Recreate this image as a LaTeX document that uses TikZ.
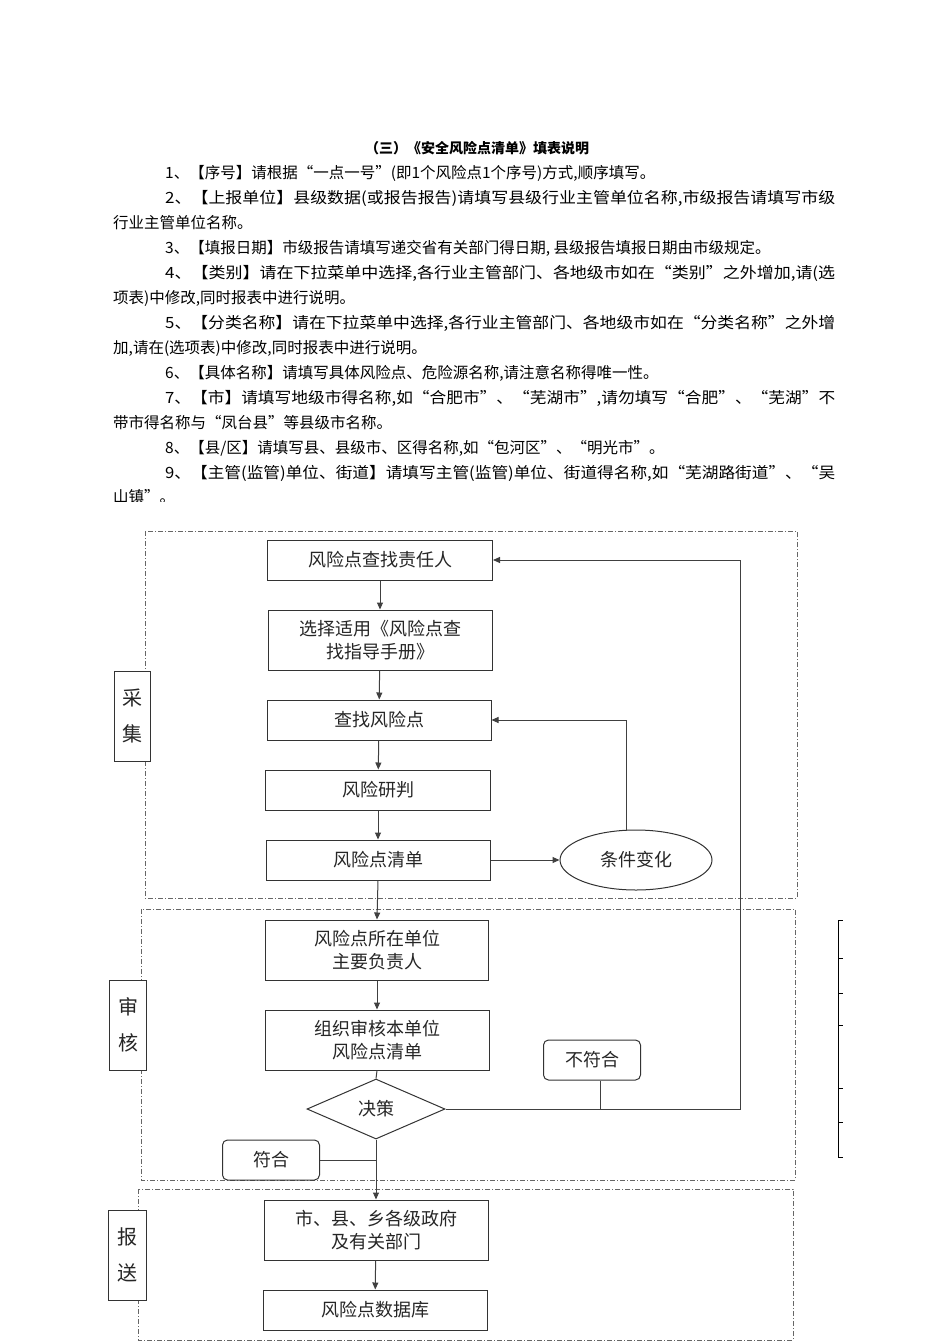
\documentclass[tikz,border=0pt]{standalone}
\usepackage{fontspec}
\usepackage{graphicx}
\setmainfont{Liberation Serif}
\newfontfamily\cjk{Noto Sans CJK SC}
\usetikzlibrary{shapes.geometric,arrows.meta}
\newcommand{\fullline}[1]{\resizebox{670pt}{\height}{#1}}
\begin{document}
\begin{tikzpicture}[x=1pt,y=-1pt,
  line/.style={anchor=west,inner sep=0pt,font=\cjk\fontsize{15.5}{17}\selectfont},
  bx/.style={draw=black!80,line width=1pt,font=\cjk\fontsize{18}{23}\selectfont,align=center,inner sep=0pt,text=black!85},
  reg/.style={draw=black!60,line width=0.8pt,dash pattern=on 5pt off 2pt on 1pt off 2pt},
  arr/.style={draw=black!75,line width=1pt,-{Triangle[length=7pt,width=6pt]}},
  ln/.style={draw=black!75,line width=1pt}]
\useasboundingbox (0,0) rectangle (950,1344);
\fill[white] (0,0) rectangle (950,1344);
\node[font=\cjk\bfseries\fontsize{14}{16}\selectfont,inner sep=0pt] at (477,148) {（三）《安全风险点清单》填表说明};
\node[line] at (165,173) {1、【序号】请根据“一点一号”(即1个风险点1个序号)方式,顺序填写。};
\node[line] at (165,198) {\fullline{2、【上报单位】县级数据(或报告报告)请填写县级行业主管单位名称,市级报告请填写市级}};
\node[line] at (113,223) {行业主管单位名称。};
\node[line] at (165,248) {3、【填报日期】市级报告请填写递交省有关部门得日期, 县级报告填报日期由市级规定。};
\node[line] at (165,273) {\fullline{4、【类别】请在下拉菜单中选择,各行业主管部门、各地级市如在“类别”之外增加,请(选}};
\node[line] at (113,298) {项表)中修改,同时报表中进行说明。};
\node[line] at (165,323) {\fullline{5、【分类名称】请在下拉菜单中选择,各行业主管部门、各地级市如在“分类名称”之外增}};
\node[line] at (113,348) {加,请在(选项表)中修改,同时报表中进行说明。};
\node[line] at (165,373) {6、【具体名称】请填写具体风险点、危险源名称,请注意名称得唯一性。};
\node[line] at (165,398) {\fullline{7、【市】请填写地级市得名称,如“合肥市”、“芜湖市”,请勿填写“合肥”、“芜湖”不}};
\node[line] at (113,423) {带市得名称与“凤台县”等县级市名称。};
\node[line] at (165,448) {8、【县/区】请填写县、县级市、区得名称,如“包河区”、“明光市”。};
\node[line] at (165,473) {\fullline{9、【主管(监管)单位、街道】请填写主管(监管)单位、街道得名称,如“芜湖路街道”、“吴}};
\begin{scope}
\clip (100,486) rectangle (900,501);
\node[line] at (113,497) {山镇”。};
\end{scope}
% regions
\draw[reg] (145,531) rectangle (797,898);
\draw[reg] (141,909) rectangle (795,1180);
\draw[reg] (138,1189) rectangle (793,1340);
\node[bx,fill=white,minimum width=36pt,minimum height=90pt,font=\cjk\fontsize{20}{24}\selectfont] (l1) at (132,716) {采\\[12pt]集};
\node[bx,fill=white,minimum width=37pt,minimum height=90pt,font=\cjk\fontsize{20}{24}\selectfont] (l2) at (128,1025) {审\\[12pt]核};
\node[bx,fill=white,minimum width=38pt,minimum height=90pt,font=\cjk\fontsize{20}{24}\selectfont] (l3) at (127,1255) {报\\[12pt]送};
% boxes
\node[bx,minimum width=225pt,minimum height=40pt] (b1) at (380,560) {风险点查找责任人};
\node[bx,minimum width=224pt,minimum height=60pt] (b2) at (380,640) {选择适用《风险点查\\找指导手册》};
\node[bx,minimum width=224pt,minimum height=40pt] (b3) at (379,720) {查找风险点};
\node[bx,minimum width=225pt,minimum height=40pt] (b4) at (378,790) {风险研判};
\node[bx,minimum width=224pt,minimum height=40pt] (b5) at (378,860) {风险点清单};
\node[bx,ellipse,minimum width=152pt,minimum height=60pt] (el) at (636,860) {条件变化};
\node[bx,minimum width=223pt,minimum height=60pt] (b6) at (377,950) {风险点所在单位\\主要负责人};
\node[bx,minimum width=224pt,minimum height=60pt] (b7) at (377,1040) {组织审核本单位\\风险点清单};
\node[bx,diamond,aspect=1.6,minimum width=138pt,minimum height=60pt] (d) at (376,1109) {决策};
\node[bx,rounded corners=5pt,minimum width=97pt,minimum height=40pt] (nf) at (592,1060) {不符合};
\node[bx,rounded corners=5pt,minimum width=97pt,minimum height=40pt] (f) at (271,1160) {符合};
\node[bx,minimum width=224pt,minimum height=60pt] (b8) at (376,1230) {市、县、乡各级政府\\及有关部门};
\node[bx,minimum width=224pt,minimum height=40pt] (b9) at (375,1310) {风险点数据库};
% connectors
\draw[arr] (b1) -- (b2);
\draw[arr] (b2) -- (b3);
\draw[arr] (b3) -- (b4);
\draw[arr] (b4) -- (b5);
\draw[arr] (b5.south) -- (b6.north);
\draw[arr] (b6) -- (b7);
\draw[ln] (b7.south) -- (d.north);
\draw[arr] (d.south) -- (b8.north);
\draw[arr] (b8) -- (b9);
\draw[arr] (b5.east) -- (el.west);
\draw[arr] (el.north -| 626,0) |- (b3.east);
\draw[arr] (d.east) -- (740,1109) |- (b1.east);
\draw[ln] (nf.south -| 600,0) -- (600,1109);
\draw[ln] (f.east) -- (376,1160);
% right bracket
\coordinate (r1) at (838,920);
\coordinate (r2) at (838,1157);
\draw[line width=0.8pt] (r1) -- (r2);
\foreach \yy in {920,958,993,1025,1088,1122,1157} \draw[line width=0.8pt] (838,\yy) -- (843,\yy);
\end{tikzpicture}
\end{document}
